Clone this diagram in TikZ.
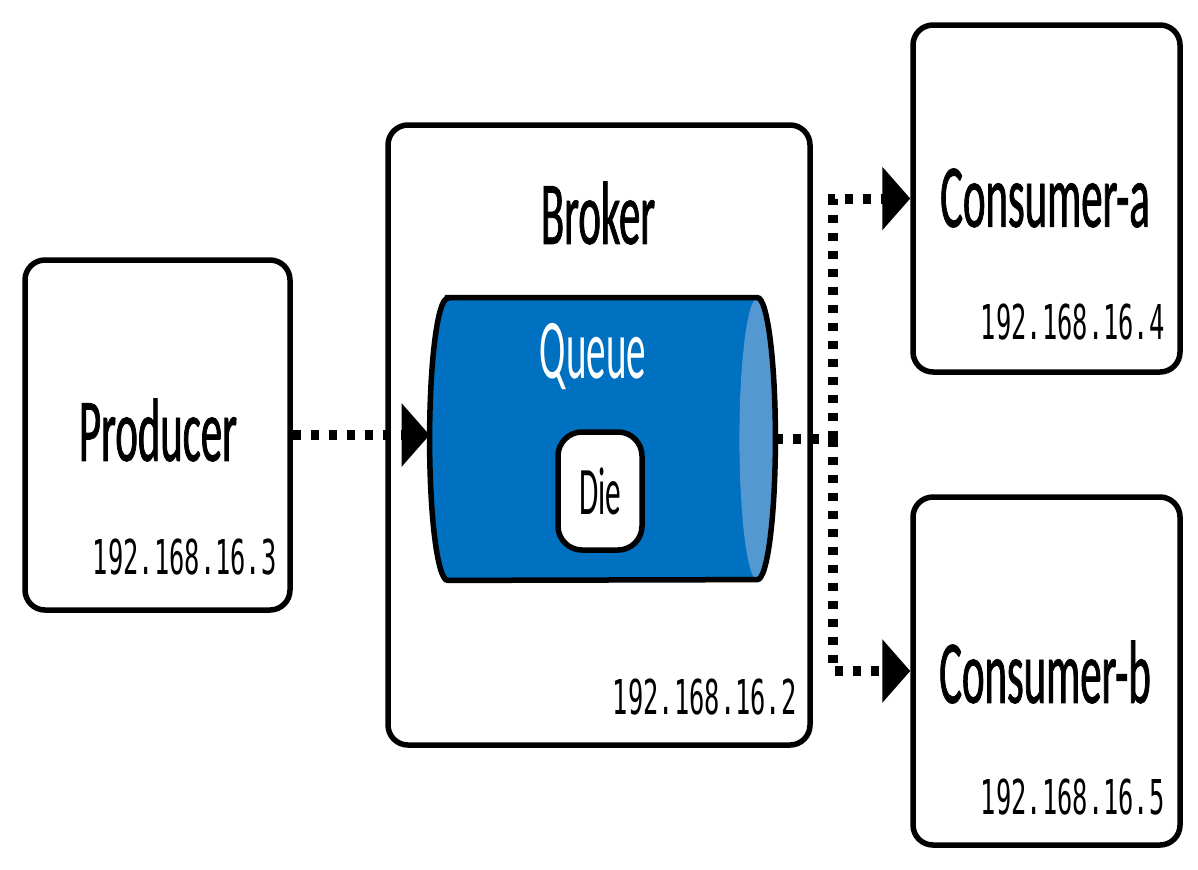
\documentclass[tikz,border=0pt]{standalone}
\usepackage{fontspec}
\setmainfont{Carlito}[FakeStretch=0.46]
\newfontfamily\namefont{Carlito}[FakeStretch=0.475,FakeBold=0.8]
\newfontfamily\ipfont{DejaVu Sans Mono}[FakeStretch=0.53]
\usetikzlibrary{arrows.meta,positioning}
\definecolor{queueblue}{RGB}{0,112,192}
\definecolor{queuecap}{RGB}{84,152,210}

\begin{document}
\begin{tikzpicture}[x=0.5pt,y=-0.5pt]

\tikzset{host/.style={draw,line width=2.75pt,rounded corners=10pt,fill=white,inner sep=0pt},
         hostname/.style={font=\namefont\fontsize{45}{54}\selectfont,inner sep=0pt},
         ipaddr/.style={anchor=east,font=\ipfont\fontsize{24}{29}\selectfont,inner sep=0pt},
         flow/.style={line width=5pt,dash pattern=on 4pt off 5pt,-{Triangle[length=14pt,width=31pt]}}}

\useasboundingbox (0,0) rectangle (1198,869);

% hosts
\node[host,minimum width=132.5pt,minimum height=175pt] (producer) at (157.5,435) {};
\node[host,minimum width=211pt,minimum height=310pt] (broker) at (599,435) {};
\node[host,minimum width=133.5pt,minimum height=173.5pt] (ca) at (1046.5,198.5) {};
\node[host,minimum width=133.5pt,minimum height=174pt] (cb) at (1046.5,671) {};

\node[hostname] (producername) at (158,430) {Producer};
\node[hostname] (brokername) at (598,213) {Broker};
\node[hostname] (caname) at (1045,198) {Consumer-a};
\node[hostname] (cbname) at (1045,672) {Consumer-b};

\node[ipaddr] (producerip) at (277,557) {192.168.16.3};
\node[ipaddr] (brokerip) at (797,697) {192.168.16.2};
\node[ipaddr] (caip) at (1165,322) {192.168.16.4};
\node[ipaddr] (cbip) at (1165,797) {192.168.16.5};

% queue
\node[minimum width=172.5pt,minimum height=141pt,inner sep=0pt] (queue) at (602.5,439) {};
\fill[queueblue] ([xshift=9pt]queue.north west) -- ([xshift=-9pt]queue.north east)
  arc[start angle=90,end angle=-90,x radius=9pt,y radius=70.5pt]
  -- ([xshift=9pt]queue.south west)
  arc[start angle=270,end angle=90,x radius=9pt,y radius=70.5pt] -- cycle;
\fill[queuecap] ([xshift=-9pt]queue.east) ellipse [x radius=9pt,y radius=70.5pt];
\draw[line width=2.75pt] ([xshift=9pt]queue.north west) -- ([xshift=-9pt]queue.north east)
  arc[start angle=90,end angle=-90,x radius=9pt,y radius=70.5pt]
  -- ([xshift=9pt]queue.south west)
  arc[start angle=270,end angle=90,x radius=9pt,y radius=70.5pt] -- cycle;

\node[text=white,inner sep=0pt,font=\fontsize{42.5}{51}\selectfont] (queuename) at (593,357) {Queue};
\node[host,rounded corners=12pt,minimum width=42pt,minimum height=59pt,
      font=\fontsize{34}{41}\selectfont] (die) at (600,491) {Die};

% flows
\coordinate (split) at (833,439);
\draw[flow] (producer.east) -- (producer.east -| queue.west);
\draw[flow,-] (queue.east) -- (split);
\draw[flow] (split) |- (ca.west);
\draw[flow] (split) |- (cb.west);

\end{tikzpicture}
\end{document}
